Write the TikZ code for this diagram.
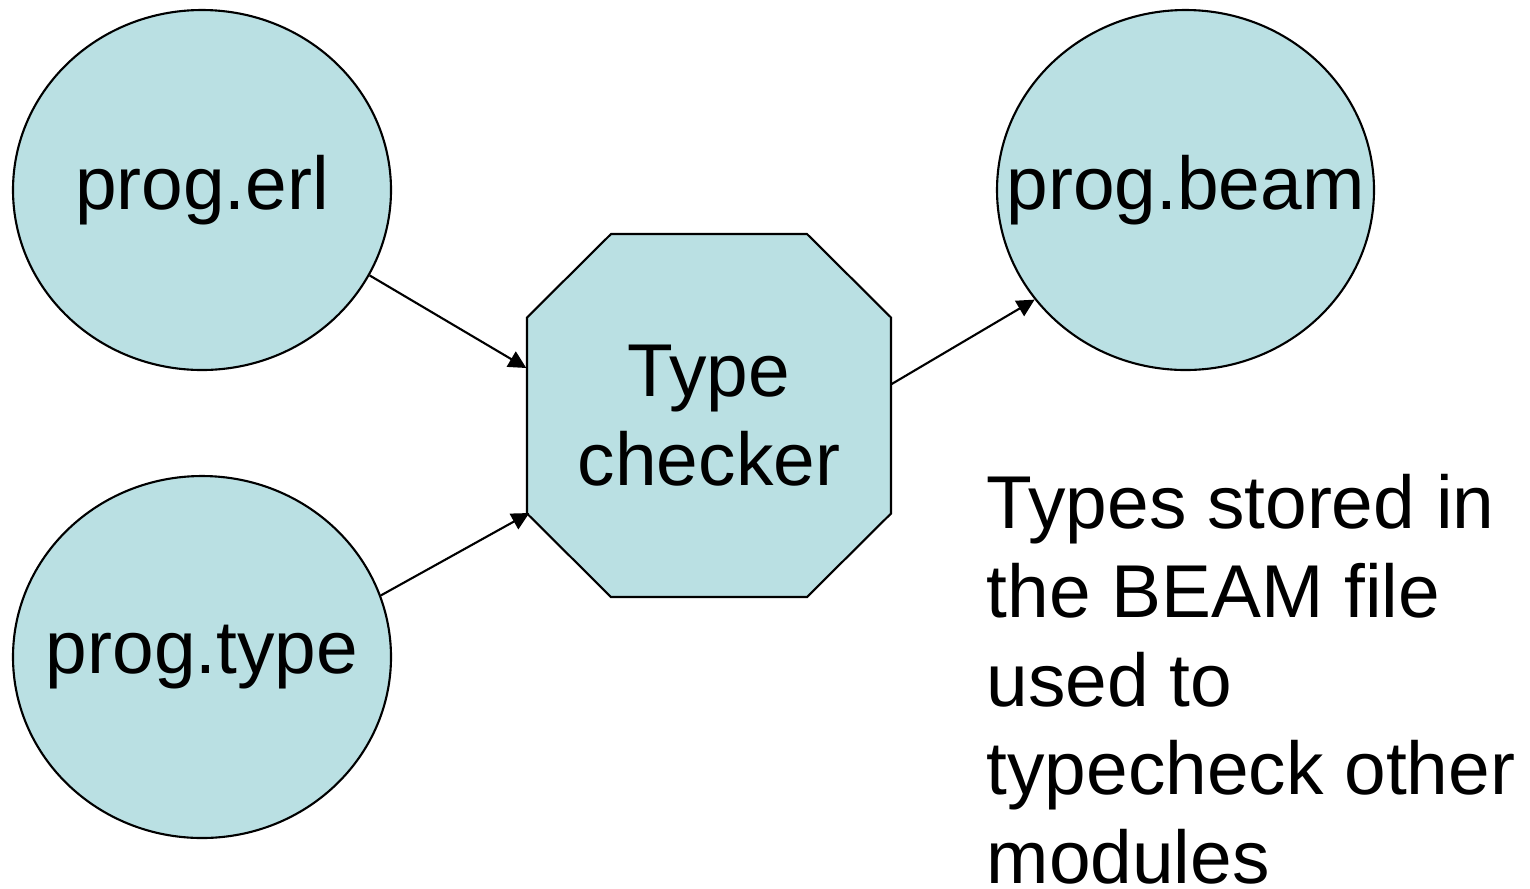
\documentclass[tikz,border=0pt]{standalone}
\usepackage{fontspec}
\setmainfont{Liberation Sans}
\usetikzlibrary{arrows.meta,calc,shapes.geometric}
\definecolor{NodeClr}{RGB}{186,224,227}

\begin{document}
\begin{tikzpicture}[
  font=\fontsize{21.3}{25.2}\selectfont,
  filebox/.style={ellipse,draw,fill=NodeClr,line width=0.6pt,
    minimum width=3.78cm,minimum height=3.6cm,inner sep=0pt},
  checkbox/.style={draw,fill=NodeClr,line width=0.6pt},
  flow/.style={line width=0.6pt,-{Triangle[length=5pt,width=5pt]}}
]
\useasboundingbox (0,0) rectangle (15.3,-8.88);

% Files (text kept out of the size).
\node[filebox] (erl) at (2.02,-1.90) {\makebox[0pt]{prog.erl}};
\node[filebox,minimum height=3.62cm] (type) at (2.02,-6.57) {\makebox[0pt]{prog.type}};
\node[filebox,minimum width=3.77cm] (beam) at (11.855,-1.90) {\makebox[0pt]{prog.beam}};

% Octagon of the checker.
\coordinate (tcc) at (7.09,-4.155);
\draw[checkbox] ($(tcc)+(-0.98,1.815)$) -- ($(tcc)+(0.98,1.815)$)
  -- ($(tcc)+(1.82,0.98)$) -- ($(tcc)+(1.82,-0.98)$)
  -- ($(tcc)+(0.98,-1.815)$) -- ($(tcc)+(-0.98,-1.815)$)
  -- ($(tcc)+(-1.82,-0.98)$) -- ($(tcc)+(-1.82,0.98)$) -- cycle;
\node[minimum width=3.64cm,minimum height=3.63cm,inner sep=0pt,align=center]
  (tc) at (tcc) {Type\\checker};

\draw[flow] (erl.-27) -- ($(tc.west)+(0,0.475)$);
\draw[flow] (type.19) -- ($(tc.west)+(0.03,-0.975)$);
\draw[flow] ($(tc.east)+(0,0.315)$) -- (beam.216);

\node[anchor=north west,inner sep=0pt,align=left] (note) at (9.86,-4.74)
  {Types stored in\\the BEAM file\\used to\\typecheck other\\modules};
\end{tikzpicture}
\end{document}
